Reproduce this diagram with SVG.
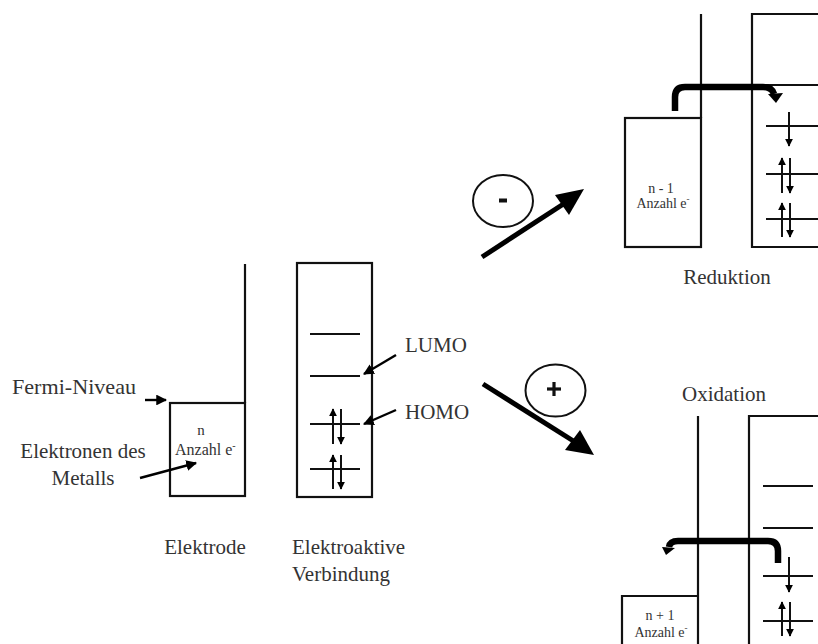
<svg xmlns="http://www.w3.org/2000/svg" width="818" height="644" viewBox="0 0 818 644">
<defs>
<style>
.ln{stroke:#111;stroke-width:2.2;fill:none}
.lv{stroke:#111;stroke-width:2;fill:none}
.ea{stroke:#111;stroke-width:2;fill:none}
.thick{stroke:#000;stroke-width:6.5;fill:none}
.ptr{stroke:#000;stroke-width:2.4;fill:none}
</style>
<marker id="ah" viewBox="0 0 10 10" refX="9" refY="5" markerWidth="4.5" markerHeight="4.5" orient="auto" markerUnits="strokeWidth">
<path d="M0,0 L10,5 L0,10 z" fill="#000"/>
</marker>
<marker id="ahp" viewBox="0 0 10 10" refX="9" refY="5" markerWidth="4" markerHeight="4" orient="auto" markerUnits="strokeWidth">
<path d="M0,0 L10,5 L0,10 z" fill="#000"/>
</marker>
</defs>
<rect width="818" height="644" fill="#fff"/>

<g font-family="Liberation Serif, Times New Roman, serif" fill="#333">
<g id="electrode">
<line class="ln" x1="245" y1="264" x2="245" y2="403"/>
<rect class="ln" x="170" y="403" width="75" height="93"/>
<text x="201" y="435" font-size="15" text-anchor="middle">n</text>
<text x="175" y="455" font-size="16">Anzahl  e<tspan font-size="10" dy="-6">-</tspan></text>
<text x="205" y="554" font-size="21" text-anchor="middle">Elektrode</text>
</g>

<g id="fermi">
<text x="12" y="394" font-size="21" textLength="124" lengthAdjust="spacingAndGlyphs">Fermi-Niveau</text>
</g>
<g id="metal">
<text x="83" y="458" font-size="21" text-anchor="middle">Elektronen des</text>
<text x="83" y="485" font-size="21" text-anchor="middle">Metalls</text>
</g>

<g id="compound">
<rect class="ln" x="297" y="263" width="75" height="234"/>
<line class="lv" x1="310" y1="334" x2="360" y2="334"/>
<line class="lv" x1="310" y1="376" x2="360" y2="376"/>
<line class="lv" x1="310" y1="424" x2="360" y2="424"/>
<line class="lv" x1="310" y1="469" x2="360" y2="469"/>
<line class="ea" x1="333" y1="444" x2="333" y2="409" marker-end="url(#ahp)"/>
<line class="ea" x1="341" y1="409" x2="341" y2="444" marker-end="url(#ahp)"/>
<line class="ea" x1="333" y1="489" x2="333" y2="455" marker-end="url(#ahp)"/>
<line class="ea" x1="341" y1="455" x2="341" y2="489" marker-end="url(#ahp)"/>
<text x="292" y="554" font-size="21">Elektroaktive</text>
<text x="292" y="581" font-size="21">Verbindung</text>
</g>

<g id="lumo"><text x="405" y="352" font-size="21">LUMO</text></g>
<g id="homo"><text x="405" y="419" font-size="21">HOMO</text></g>

<g id="reduction">
<line class="ln" x1="701" y1="14" x2="701" y2="118"/>
<rect class="ln" x="625" y="118" width="76" height="129"/>
<text x="661" y="193" font-size="14" text-anchor="middle">n - 1</text>
<text x="663" y="208" font-size="14" text-anchor="middle">Anzahl  e<tspan font-size="9" dy="-6">-</tspan></text>
<polyline class="ln" points="820,14 752,14 752,247 820,247"/>
<line class="lv" x1="752" y1="85" x2="818" y2="85"/>
<line class="lv" x1="766" y1="126" x2="818" y2="126"/>
<line class="lv" x1="766" y1="174" x2="818" y2="174"/>
<line class="lv" x1="766" y1="219" x2="818" y2="219"/>
<line class="ea" x1="789" y1="112" x2="789" y2="146" marker-end="url(#ahp)"/>
<line class="ea" x1="782" y1="193" x2="782" y2="158" marker-end="url(#ahp)"/>
<line class="ea" x1="790" y1="158" x2="790" y2="193" marker-end="url(#ahp)"/>
<line class="ea" x1="782" y1="237" x2="782" y2="203" marker-end="url(#ahp)"/>
<line class="ea" x1="790" y1="203" x2="790" y2="237" marker-end="url(#ahp)"/>
<text x="727" y="284" font-size="21" text-anchor="middle">Reduktion</text>
</g>

<g id="oxidation">
<text x="724" y="401" font-size="21" text-anchor="middle">Oxidation</text>
<line class="ln" x1="698" y1="416" x2="698" y2="646"/>
<polyline class="ln" points="622,646 622,596 698,596"/>
<polyline class="ln" points="820,416 749,416 749,646"/>
<line class="lv" x1="763" y1="486" x2="813" y2="486"/>
<line class="lv" x1="763" y1="528" x2="813" y2="528"/>
<line class="lv" x1="763" y1="576" x2="813" y2="576"/>
<line class="lv" x1="763" y1="621" x2="813" y2="621"/>
<line class="ea" x1="789" y1="557" x2="789" y2="592" marker-end="url(#ahp)"/>
<line class="ea" x1="782" y1="636" x2="782" y2="602" marker-end="url(#ahp)"/>
<line class="ea" x1="790" y1="602" x2="790" y2="636" marker-end="url(#ahp)"/>
<text x="660" y="620" font-size="14" text-anchor="middle">n + 1</text>
<text x="661" y="637" font-size="14" text-anchor="middle">Anzahl  e<tspan font-size="9" dy="-6">-</tspan></text>
</g>
</g>

<g id="minus">
<ellipse cx="503" cy="201" rx="30" ry="26" fill="none" stroke="#111" stroke-width="2"/>
<rect x="499" y="198.5" width="8" height="4" fill="#111"/>
</g>
<g id="plus">
<ellipse cx="555.5" cy="390.5" rx="30" ry="26" fill="none" stroke="#111" stroke-width="2"/>
<line x1="547" y1="389" x2="561" y2="389" stroke="#111" stroke-width="3.2"/>
<line x1="554" y1="382" x2="554" y2="396" stroke="#111" stroke-width="3.2"/>
</g>

<g id="connectors">
<line class="ptr" x1="145" y1="400" x2="166" y2="400" marker-end="url(#ah)"/>
<line class="ptr" x1="140" y1="478" x2="196" y2="463" marker-end="url(#ah)"/>
<line class="ptr" x1="396" y1="355" x2="364" y2="374" marker-end="url(#ah)"/>
<line class="ptr" x1="396" y1="410" x2="364" y2="424" marker-end="url(#ah)"/>
<line x1="482" y1="257" x2="565" y2="203" stroke="#000" stroke-width="5"/>
<polygon points="584,189 555,195 569,215" fill="#000"/>
<line x1="483" y1="384" x2="575" y2="442" stroke="#000" stroke-width="5"/>
<polygon points="594,455 565,450 580,430" fill="#000"/>
<path class="thick" d="M675,111 V97 Q675,87 685,87 H763 Q772,87 774,94"/>
<polygon points="768,94 783,93 776,103" fill="#000"/>
<path class="thick" d="M778,563 V551 Q778,541 768,541 H678 Q670,541 669,547"/>
<polygon points="662,547 675,548 666,555" fill="#000"/>
</g>
</svg>
